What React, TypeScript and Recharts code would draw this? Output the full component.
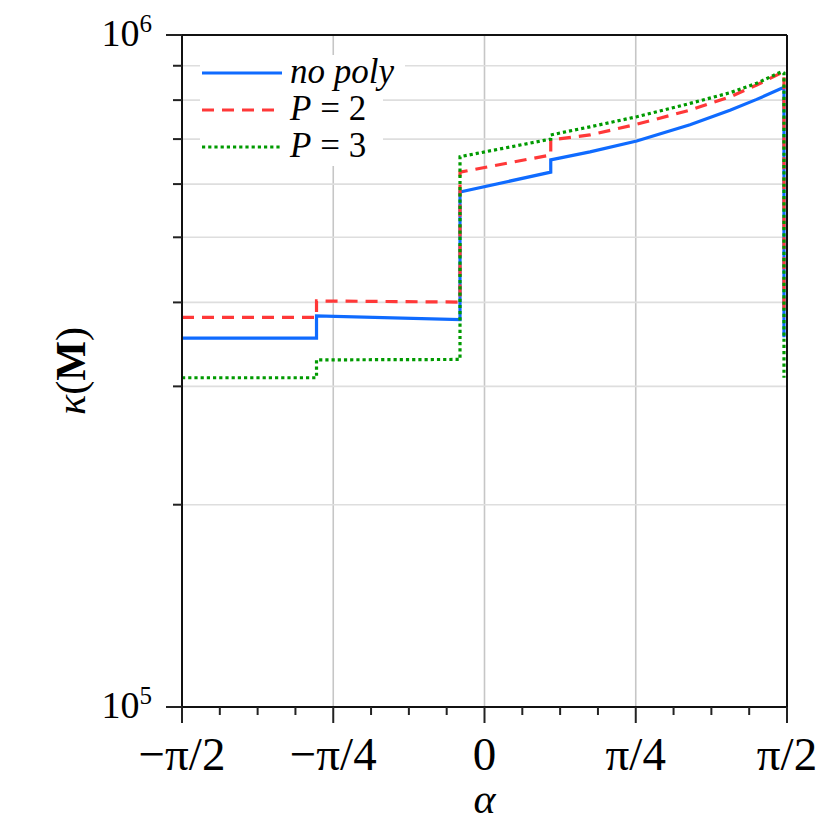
import { CartesianGrid, Legend, Line, LineChart, XAxis, YAxis } from "recharts";

const PI = Math.PI;

// alpha in radians, kappa(M)
const noPolyAlpha = [-1.5708, -0.8723, -0.8723, -0.1272, -0.1272, 0.344, 0.344, 0.5478, 0.7903, 1.0671, 1.2748, 1.4134, 1.5433, 1.5551, 1.5551];
const noPolyKappa = [3.54e5, 3.54e5, 3.82e5, 3.77e5, 5.84e5, 6.25e5, 6.52e5, 6.7e5, 6.955e5, 7.35e5, 7.73e5, 8.02e5, 8.33e5, 8.35e5, 3.55e5];

const p2Alpha = [-1.5708, -0.8723, -0.8723, -0.1272, -0.1272, 0.344, 0.344, 0.5478, 0.7903, 1.0671, 1.2748, 1.4134, 1.5433, 1.5551, 1.5551];
const p2Kappa = [3.8e5, 3.8e5, 4.02e5, 4.005e5, 6.25e5, 6.63e5, 6.98e5, 7.1e5, 7.365e5, 7.73e5, 8.09e5, 8.425e5, 8.79e5, 8.77e5, 3.8e5];

const p3Alpha = [-1.5708, -0.8723, -0.8723, -0.1272, -0.1272, 0.344, 0.344, 0.5478, 0.7903, 1.0671, 1.2748, 1.4134, 1.5433, 1.5551, 1.5551];
const p3Kappa = [3.09e5, 3.09e5, 3.285e5, 3.29e5, 6.59e5, 7.0e5, 7.1e5, 7.3e5, 7.557e5, 7.91e5, 8.205e5, 8.475e5, 8.82e5, 8.78e5, 3.09e5];

const xMajor = [-PI / 2, -PI / 4, 0, PI / 4, PI / 2];
const xLabels = ["−π/2", "−π/4", "0", "π/4", "π/2"];
const xTicks = [-8, -7, -6, -5, -4, -3, -2, -1, 0, 1, 2, 3, 4, 5, 6, 7, 8].map((k) => (k * PI) / 16);
const yTicks = [1e5, 2e5, 3e5, 4e5, 5e5, 6e5, 7e5, 8e5, 9e5, 1e6];
const yMajor = [1e5, 1e6];
const yExponents = ["5", "6"];

const zip = (a: number[], k: number[]) => a.map((v, i) => ({ a: v, k: k[i] }));

const FONT = "'Liberation Serif', 'DejaVu Serif', serif";

const series = [
  { name: "no poly", data: zip(noPolyAlpha, noPolyKappa), color: "#0f6bff", dash: undefined },
  { name: "P = 2", data: zip(p2Alpha, p2Kappa), color: "#ff3838", dash: "12 8" },
  { name: "P = 3", data: zip(p3Alpha, p3Kappa), color: "#009a00", dash: "3.2 3" },
];

function XTick({ x, y, payload }: any) {
  const i = xMajor.findIndex((v) => Math.abs(v - payload.value) < 1e-9);
  const major = i >= 0;
  return (
    <g>
      <line x1={x} x2={x} y1={y} y2={y + (major ? 16 : 8)} stroke="#222" strokeWidth={2} />
      {major && (
        <text x={x} y={y + 63} textAnchor="middle" fontFamily={FONT} fontSize={47} fill="#000">
          {xLabels[i]}
        </text>
      )}
    </g>
  );
}

function YTick({ x, y, payload }: any) {
  const i = yMajor.indexOf(payload.value);
  const major = i >= 0;
  return (
    <g>
      <line x1={x - (major ? 16 : 9)} x2={x} y1={y} y2={y} stroke="#222" strokeWidth={2} />
      {major && (
        <text x={x - 30} y={y + 11} textAnchor="end" fontFamily={FONT} fontSize={38} fill="#000">
          10
          <tspan dy={-14} fontSize={25}>
            {yExponents[i]}
          </tspan>
        </text>
      )}
    </g>
  );
}

// keeps the ticks for the grid, draws nothing
const NoTick = () => <g />;

function LegendBox() {
  const widths = [205, 183, 183];
  return (
    <svg width={260} height={125} style={{ display: "block", overflow: "visible" }}>
      {series.map((s, i) => (
        <g key={s.name}>
          <rect x={0} y={i * 37} width={widths[i]} height={37} fill="#fff" />
          <line x1={2} x2={82} y1={18 + i * 37} y2={18 + i * 37} stroke={s.color} strokeWidth={3.2} strokeDasharray={s.dash} />
          <text x={90} y={28 + i * 37} fontFamily={FONT} fontSize={35} fill="#000">
            {i === 0 ? (
              <tspan fontStyle="italic">no poly</tspan>
            ) : (
              <>
                <tspan fontStyle="italic">P</tspan>
                <tspan> = {i + 1}</tspan>
              </>
            )}
          </text>
        </g>
      ))}
    </svg>
  );
}

export default function App() {
  return (
    <div style={{ position: "absolute", left: 0, top: 0, width: 830, height: 830, background: "#fff" }}>
      <LineChart width={830} height={830} margin={{ top: 34, right: 42, bottom: 122, left: 181 }}>
        <XAxis
          xAxisId="x"
          type="number"
          dataKey="a"
          domain={[-PI / 2, PI / 2]}
          allowDataOverflow
          ticks={xTicks}
          interval={0}
          tick={<XTick />}
          tickLine={false}
          tickSize={0}
          tickMargin={0}
          height={1}
          axisLine={{ stroke: "#111", strokeWidth: 2 }}
          label={{
            content: ({ viewBox }: any) => (
              <text x={viewBox.x + viewBox.width / 2} y={viewBox.y + 106} textAnchor="middle" fontFamily={FONT} fontSize={42} fontStyle="italic" fill="#000">
                α
              </text>
            ),
          }}
        />
        <XAxis
          xAxisId="xt"
          orientation="top"
          type="number"
          dataKey="a"
          domain={[-PI / 2, PI / 2]}
          allowDataOverflow
          ticks={xMajor}
          interval={0}
          tick={NoTick}
          tickLine={false}
          height={1}
          axisLine={{ stroke: "#111", strokeWidth: 2 }}
        />
        <YAxis
          yAxisId="y"
          type="number"
          scale="log"
          domain={[1e5, 1e6]}
          allowDataOverflow
          ticks={yTicks}
          interval={0}
          tick={<YTick />}
          tickLine={false}
          tickSize={0}
          tickMargin={0}
          width={1}
          axisLine={{ stroke: "#111", strokeWidth: 2 }}
          label={{
            content: ({ viewBox }: any) => (
              <text
                transform={`translate(${viewBox.x + viewBox.width - 97}, ${viewBox.y + viewBox.height / 2}) rotate(-90)`}
                textAnchor="middle"
                fontFamily={FONT}
                fontSize={42}
                fill="#000"
              >
                <tspan fontStyle="italic">κ</tspan>(<tspan fontWeight="bold">M</tspan>)
              </text>
            ),
          }}
        />
        <YAxis
          yAxisId="yr"
          orientation="right"
          type="number"
          scale="log"
          domain={[1e5, 1e6]}
          allowDataOverflow
          ticks={yTicks}
          interval={0}
          tick={NoTick}
          tickLine={false}
          width={1}
          axisLine={{ stroke: "#111", strokeWidth: 2 }}
        />
        <CartesianGrid xAxisId="xt" yAxisId="yr" horizontal={false} stroke="#c6c6c6" strokeWidth={1.6} />
        <CartesianGrid xAxisId="xt" yAxisId="yr" vertical={false} stroke="#dedede" strokeWidth={1.6} />
        {series.map((s) => (
          <Line
            key={s.name}
            xAxisId="x"
            yAxisId="y"
            data={s.data}
            dataKey="k"
            name={s.name}
            type="linear"
            stroke={s.color}
            strokeWidth={3.2}
            strokeDasharray={s.dash}
            dot={false}
            activeDot={false}
            isAnimationActive={false}
          />
        ))}
        <Legend
          layout="horizontal"
          align="center"
          verticalAlign="middle"
          content={() => <LegendBox />}
          wrapperStyle={{ left: 200, top: 55, width: 260, height: 125 }}
        />
      </LineChart>
    </div>
  );
}
